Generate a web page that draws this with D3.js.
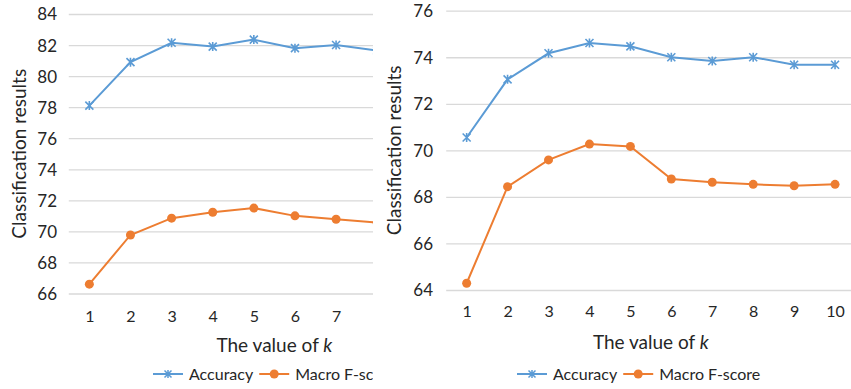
<!DOCTYPE html>
<html><head><meta charset="utf-8">
<script src="https://cdn.jsdelivr.net/npm/d3@7"></script>
<style>body{margin:0;background:#fff}svg{display:block}text{font-family:Lato,"Open Sans",sans-serif}</style>
</head><body><svg id="c" width="851" height="389"></svg>
<script>
// Data
const kValues = [1,2,3,4,5,6,7,8,9,10];
const leftAccuracy = [78.1, 80.9, 82.15, 81.9, 82.35, 81.8, 82.0, 81.65];
const leftMacroF   = [66.6, 69.77, 70.85, 71.23, 71.5, 71.0, 70.78, 70.56];
const leftYTicks = [66,68,70,72,74,76,78,80,82,84];
const rightAccuracy = [70.55, 73.05, 74.17, 74.61, 74.47, 74.0, 73.84, 74.0, 73.68, 73.68];
const rightMacroF   = [64.29, 68.44, 69.59, 70.27, 70.17, 68.77, 68.63, 68.54, 68.48, 68.54];
const rightYTicks = [64,66,68,70,72,74,76];
const seriesNames = ["Accuracy", "Macro F-score"];
const xTitle = "The value of ";
const yTitle = "Classification results";

const BLUE = "#5B9BD5", ORANGE = "#ED7D31", GRID = "#D9D9D9", TXT = "#262626";
const svg = d3.select("#c");
const LEFT_CLIP = 373;

svg.append("defs").append("clipPath").attr("id","leftClip")
  .append("rect").attr("x",0).attr("y",0).attr("width",LEFT_CLIP).attr("height",389);

function panel(cfg){
  const g = svg.append("g");
  if (cfg.clip) g.attr("clip-path","url(#leftClip)");
  const x = d3.scalePoint().domain(kValues).range([cfg.x0 + cfg.band/2, cfg.x1 - cfg.band/2]);
  const y = d3.scaleLinear().domain([cfg.yTicks[0], cfg.yTicks[cfg.yTicks.length-1]]).range([cfg.yBottom, cfg.yTop]);

  // grid
  const gy = g.append("g").attr("transform",`translate(${cfg.x0},0)`)
    .call(d3.axisLeft(y).tickValues(cfg.yTicks).tickSize(-(cfg.gridRight - cfg.x0)).tickPadding(cfg.x0 - cfg.yLabelRight).tickFormat(d3.format("d")));
  gy.select(".domain").remove();
  gy.selectAll(".tick line").attr("stroke",GRID).attr("stroke-width",1.3);
  gy.selectAll(".tick text").attr("fill",TXT).style("font-size","17px").attr("dy","0.35em");

  const visibleK = kValues.filter(k => x(k) + 8 <= cfg.visibleRight);
  const gx = g.append("g").attr("transform",`translate(0,${cfg.yBottom})`)
    .call(d3.axisBottom(x).tickValues(visibleK).tickSize(0).tickPadding(cfg.xTickPad));
  gx.select(".domain").remove();
  gx.selectAll(".tick text").attr("fill",TXT).style("font-size","16px");

  const line = d3.line().x((d,i)=>x(kValues[i])).y(d=>y(d));
  const series = [{vals:cfg.acc,color:BLUE,marker:"star"},{vals:cfg.mf,color:ORANGE,marker:"dot"}];
  series.forEach(s=>{
    g.append("path").datum(s.vals).attr("d",line).attr("fill","none").attr("stroke",s.color).attr("stroke-width",2);
    const m = g.selectAll(null).data(s.vals).enter().append("g")
      .attr("transform",(d,i)=>`translate(${x(kValues[i])},${y(d)})`);
    if (s.marker==="dot") m.append("circle").attr("r",4.5).attr("fill",s.color);
    else m.append("path").attr("d","M-4,-4L4,4M-4,4L4,-4M0,-4.5L0,4.5").attr("stroke",s.color).attr("stroke-width",1.6);
  });

  // axis titles
  const cx = (cfg.x0+cfg.x1)/2;
  const xt = g.append("text").attr("x",cx).attr("y",cfg.xTitleY).attr("text-anchor","middle")
    .attr("fill",TXT).style("font-size","19px").text(xTitle);
  xt.append("tspan").style("font-style","italic").text("k");
  g.append("text").attr("transform",`translate(${cfg.yTitleX},${(cfg.yTop+cfg.yBottom)/2}) rotate(-90)`)
    .attr("text-anchor","middle").attr("fill",TXT).style("font-size","19px").text(yTitle);

  // legend
  const lg = g.append("g").attr("transform",`translate(${cfg.legendX},${cfg.legendY})`);
  let off = 0;
  series.forEach((s,i)=>{
    lg.append("line").attr("x1",off).attr("x2",off+30).attr("y1",0).attr("y2",0).attr("stroke",s.color).attr("stroke-width",2);
    if (s.marker==="dot") lg.append("circle").attr("cx",off+15).attr("r",4.5).attr("fill",s.color);
    else lg.append("path").attr("transform",`translate(${off+15},0)`).attr("d","M-3.5,-3.5L3.5,3.5M-3.5,3.5L3.5,-3.5M0,-4L0,4").attr("stroke",s.color).attr("stroke-width",1.5);
    const t = lg.append("text").attr("x",off+36).attr("y",0).attr("dy","0.35em").attr("fill",TXT).style("font-size","16px").text(seriesNames[i]);
    off += 36 + t.node().getComputedTextLength() + 6;
  });
}

panel({x0:68.8, x1:480, band:41.1, gridRight:480, yTop:14, yBottom:293.5, yTicks:leftYTicks, visibleRight:LEFT_CLIP,
  yLabelRight:57, xTickPad:17, xTitleY:352, yTitleX:26, legendX:153, legendY:374,
  acc:leftAccuracy, mf:leftMacroF, clip:true});
panel({x0:446.2, x1:855.5, band:40.9, gridRight:851, yTop:10.7, yBottom:290, yTicks:rightYTicks, visibleRight:900,
  yLabelRight:433, xTickPad:16, xTitleY:349, yTitleX:401, legendX:517, legendY:374,
  acc:rightAccuracy, mf:rightMacroF, clip:false});
</script></body></html>
